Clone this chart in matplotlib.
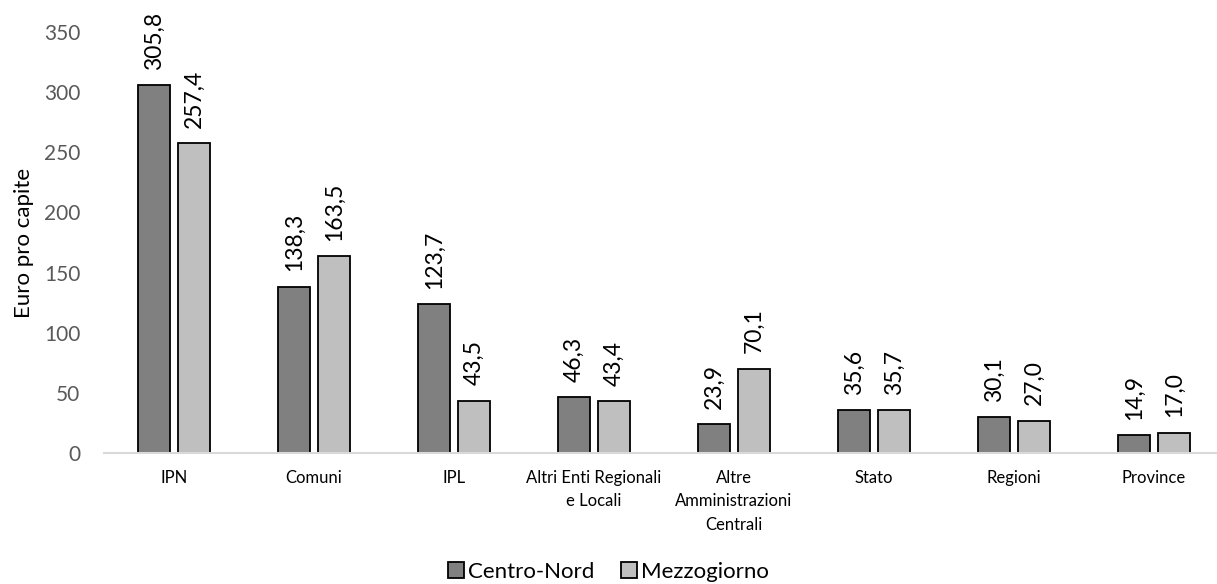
import numpy as np
import matplotlib.pyplot as plt

categories = ["IPN", "Comuni", "IPL", "Altri Enti Regionali\ne Locali",
              "Altre\nAmministrazioni\nCentrali", "Stato", "Regioni", "Province"]
centro_nord = [305.8, 138.3, 123.7, 46.3, 23.9, 35.6, 30.1, 14.9]
mezzogiorno = [257.4, 163.5, 43.5, 43.4, 70.1, 35.7, 27.0, 17.0]
yticks = [0, 50, 100, 150, 200, 250, 300, 350]

plt.rcParams['font.family'] = ['Lato', 'DejaVu Sans']

fig = plt.figure(figsize=(12.17, 5.84), dpi=100)
ax = fig.add_axes([0.0855, 0.2243, 0.9145, 0.7209])

x = np.arange(len(categories))
w = 0.229
off = 0.143
b1 = ax.bar(x - off, centro_nord, w, color="#808080", edgecolor="black", linewidth=1.3,
            label="Centro-Nord")
b2 = ax.bar(x + off, mezzogiorno, w, color="#bfbfbf", edgecolor="black", linewidth=1.3,
            label="Mezzogiorno")

for bars, vals in ((b1, centro_nord), (b2, mezzogiorno)):
    for rect, v in zip(bars, vals):
        ax.annotate("{:.1f}".format(v).replace(".", ","),
                    (rect.get_x() + rect.get_width() / 2, v),
                    xytext=(0, 11), textcoords="offset points",
                    rotation=90, ha="center", va="bottom", fontsize=16.5,
                    annotation_clip=False)

ax.set_xlim(-0.5, 7.45)
ax.set_ylim(0, 350)
ax.set_yticks(yticks)
ax.set_xticks(x)
ax.set_xticklabels(categories, fontsize=12, linespacing=1.6, va="top")
ax.tick_params(axis="x", length=0, pad=12)
ax.tick_params(axis="y", length=0, pad=17, labelsize=15, labelcolor="#595959")
for s in ["top", "right", "left"]:
    ax.spines[s].set_visible(False)
ax.spines["bottom"].set_color("#d9d9d9")
ax.spines["bottom"].set_linewidth(1.5)
ax.set_ylabel("Euro pro capite", fontsize=16, labelpad=7)

fig.legend(loc="lower center", bbox_to_anchor=(0.5, -0.03), ncol=2, frameon=False,
           fontsize=16, handlelength=0.7, handleheight=0.7, handletextpad=0.2,
           columnspacing=1.2)

fig.savefig("out.png", dpi=100)
